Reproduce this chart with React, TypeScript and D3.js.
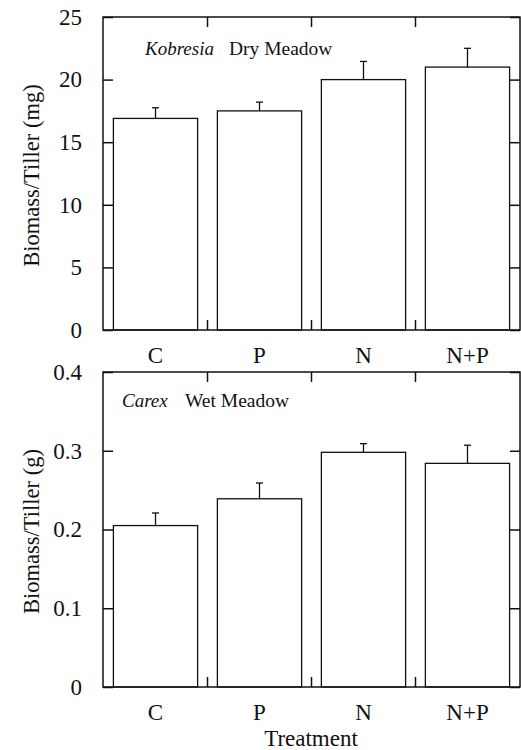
import React, { useEffect, useRef } from "react";
import * as d3 from "d3";

const treatments = ["C", "P", "N", "N+P"];

// Kobresia, dry meadow (mg)
const dryMeans = [16.9, 17.5, 20.0, 21.0];
const dryErrors = [0.85, 0.7, 1.45, 1.5];
const dryTicks = [0, 5, 10, 15, 20, 25];

// Carex, wet meadow (g)
const wetMeans = [0.205, 0.239, 0.298, 0.284];
const wetErrors = [0.016, 0.02, 0.011, 0.023];
const wetTicks = [0, 0.1, 0.2, 0.3, 0.4];

const FONT = "'Liberation Serif', 'Times New Roman', serif";

const drawPanel = (svg, opts) => {
  const { top, bottom, left, right, means, errors, ticks, yMax, title, species, habitat, speciesX, habitatX, labelY, fmt } = opts;

  const x = d3.scaleBand().domain(treatments).range([left, right]).paddingInner(0.19).paddingOuter(0.1);
  const y = d3.scaleLinear().domain([0, yMax]).range([bottom, top]);

  const g = svg.append("g");
  const edges = treatments.slice(1).map((d) => x(d) - (x.step() * x.paddingInner()) / 2);

  // bars
  g.selectAll("rect.bar")
    .data(means)
    .enter()
    .append("rect")
    .attr("x", (d, i) => x(treatments[i]))
    .attr("y", (d) => y(d))
    .attr("width", x.bandwidth())
    .attr("height", (d) => bottom - y(d))
    .attr("fill", "white")
    .attr("stroke", "#111")
    .attr("stroke-width", 1.3);

  // error bars
  const eb = g.selectAll("g.err").data(means).enter().append("g");
  eb.append("line")
    .attr("x1", (d, i) => x(treatments[i]) + x.bandwidth() / 2)
    .attr("x2", (d, i) => x(treatments[i]) + x.bandwidth() / 2)
    .attr("y1", (d) => y(d))
    .attr("y2", (d, i) => y(d + errors[i]))
    .attr("stroke", "#111")
    .attr("stroke-width", 1.3);
  eb.append("line")
    .attr("x1", (d, i) => x(treatments[i]) + x.bandwidth() / 2 - 3.5)
    .attr("x2", (d, i) => x(treatments[i]) + x.bandwidth() / 2 + 3.5)
    .attr("y1", (d, i) => y(d + errors[i]))
    .attr("y2", (d, i) => y(d + errors[i]))
    .attr("stroke", "#111")
    .attr("stroke-width", 1.3);

  // frame
  g.append("rect")
    .attr("x", left)
    .attr("y", top)
    .attr("width", right - left)
    .attr("height", bottom - top)
    .attr("fill", "none")
    .attr("stroke", "#111")
    .attr("stroke-width", 1.5);

  // left axis
  const la = g
    .append("g")
    .attr("transform", `translate(${left},0)`)
    .call(d3.axisLeft(y).tickValues(ticks).tickSize(-10).tickPadding(21).tickFormat(fmt));
  la.select(".domain").remove();
  la.selectAll("line").attr("stroke", "#111").attr("stroke-width", 1.5);
  la.selectAll("text").attr("font-family", FONT).attr("font-size", 23).attr("fill", "#111");

  // right axis
  const ra = g
    .append("g")
    .attr("transform", `translate(${right},0)`)
    .call(d3.axisRight(y).tickValues(ticks).tickSize(-10).tickFormat(() => ""));
  ra.select(".domain").remove();
  ra.selectAll("line").attr("stroke", "#111").attr("stroke-width", 1.5);

  // top / bottom ticks at band boundaries
  g.selectAll("line.tt")
    .data(edges)
    .enter()
    .append("line")
    .attr("x1", (d) => d)
    .attr("x2", (d) => d)
    .attr("y1", top)
    .attr("y2", top + 10)
    .attr("stroke", "#111")
    .attr("stroke-width", 1.5);
  g.selectAll("line.bt")
    .data(edges)
    .enter()
    .append("line")
    .attr("x1", (d) => d)
    .attr("x2", (d) => d)
    .attr("y1", bottom)
    .attr("y2", bottom - 10)
    .attr("stroke", "#111")
    .attr("stroke-width", 1.5);

  // category labels
  g.selectAll("text.cat")
    .data(treatments)
    .enter()
    .append("text")
    .attr("x", (d) => x(d) + x.bandwidth() / 2)
    .attr("y", bottom + 33)
    .attr("text-anchor", "middle")
    .attr("font-family", FONT)
    .attr("font-size", 23)
    .attr("fill", "#111")
    .text((d) => d);

  // y title
  g.append("text")
    .attr("transform", `translate(39,${(top + bottom) / 2 + 2}) rotate(-90)`)
    .attr("text-anchor", "middle")
    .attr("font-family", FONT)
    .attr("font-size", 22.5)
    .attr("fill", "#111")
    .text(title);

  // annotation
  g.append("text")
    .attr("x", speciesX)
    .attr("y", labelY)
    .attr("font-family", FONT)
    .attr("font-size", 19)
    .attr("font-style", "italic")
    .attr("fill", "#111")
    .text(species);
  g.append("text")
    .attr("x", habitatX)
    .attr("y", labelY)
    .attr("font-family", FONT)
    .attr("font-size", 19.5)
    .attr("fill", "#111")
    .text(habitat);
};

const createChart = (node) => {
  const svg = d3.select(node);
  svg.selectAll("*").remove();

  drawPanel(svg, {
    top: 17,
    bottom: 330,
    left: 103,
    right: 520,
    means: dryMeans,
    errors: dryErrors,
    ticks: dryTicks,
    yMax: 25,
    title: "Biomass/Tiller (mg)",
    species: "Kobresia",
    habitat: "Dry Meadow",
    speciesX: 145,
    habitatX: 229,
    labelY: 55,
    fmt: d3.format("d"),
  });

  drawPanel(svg, {
    top: 372,
    bottom: 687,
    left: 103,
    right: 520,
    means: wetMeans,
    errors: wetErrors,
    ticks: wetTicks,
    yMax: 0.4,
    title: "Biomass/Tiller (g)",
    species: "Carex",
    habitat: "Wet Meadow",
    speciesX: 122,
    habitatX: 185,
    labelY: 407,
    fmt: (d) => (d === 0 ? "0" : d3.format(".1f")(d)),
  });

  svg
    .append("text")
    .attr("x", 311)
    .attr("y", 746)
    .attr("text-anchor", "middle")
    .attr("font-family", FONT)
    .attr("font-size", 23)
    .attr("fill", "#111")
    .text("Treatment");
};

export default function App() {
  const ref = useRef(null);
  useEffect(() => {
    createChart(ref.current);
  }, []);

  return (
    <div style={{ position: "absolute", left: 0, top: 0 }}>
      <svg ref={ref} width={521} height={750} style={{ display: "block", background: "white" }} />
    </div>
  );
}
